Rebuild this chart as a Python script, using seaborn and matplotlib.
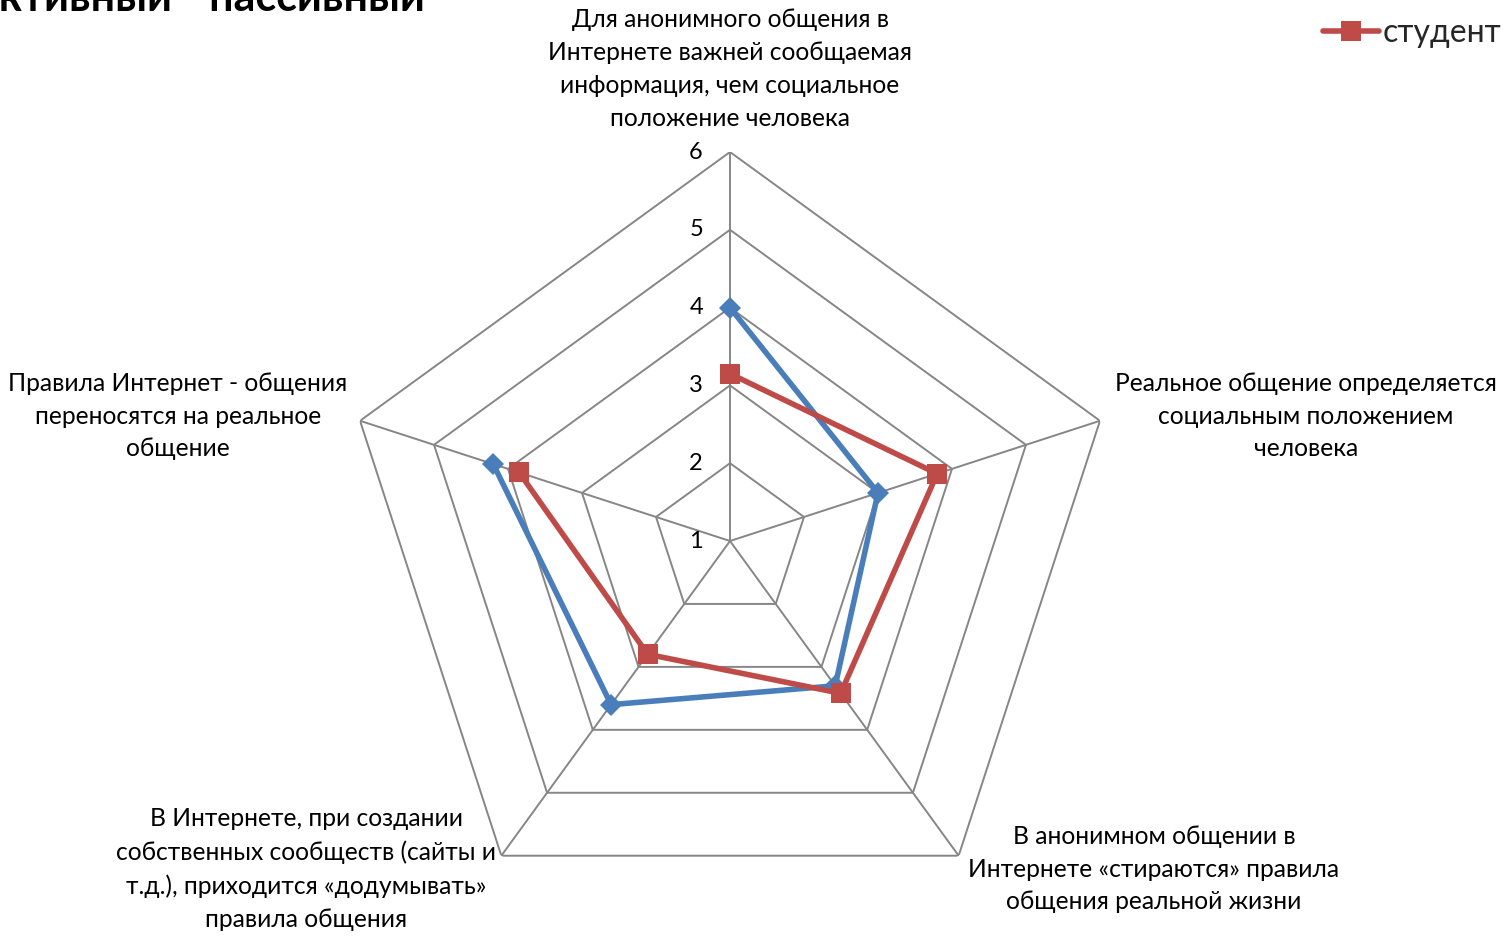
import numpy as np
import pandas as pd
import matplotlib
matplotlib.use("Agg")
import matplotlib.pyplot as plt
import seaborn as sns
from matplotlib.transforms import offset_copy

categories = [
    "Для анонимного общения в\nИнтернете важней сообщаемая\nинформация, чем социальное\nположение человека",
    "Реальное общение определяется\nсоциальным положением\nчеловека",
    "В анонимном общении в\nИнтернете «стираются» правила\nобщения реальной жизни",
    "В Интернете, при создании\nсобственных сообществ (сайты и\nт.д.), приходится «додумывать»\nправила общения",
    "Правила Интернет - общения\nпереносятся на реальное\nобщение",
]
series_blue = [4.0, 3.0, 3.3, 3.6, 4.2]
series_red = [3.15, 3.8, 3.42, 2.8, 3.85]
ring_labels = [1, 2, 3, 4, 5, 6]
legend_label = "студент"
title_text = "Активный - пассивный"

W, H = 1505, 938
sns.set_theme(style="white")
FONT = ["Lato", "DejaVu Sans"]
plt.rcParams["font.family"] = FONT

fig = plt.figure(figsize=(W / 100, H / 100), dpi=100)
cx, cy, R = 730, 541, 389
ax = fig.add_axes([(cx - R) / W, (H - cy - R) / H, 2 * R / W, 2 * R / H], projection="polar")
ax.set_theta_offset(np.pi / 2)
ax.set_theta_direction(-1)
ax.set_ylim(ring_labels[0], ring_labels[-1])
ax.grid(False)
ax.spines["polar"].set_visible(False)
ax.set_xticks([])
ax.set_yticks([])
ax.set_facecolor("none")

n = len(categories)
angles = np.linspace(0, 2 * np.pi, n, endpoint=False)
closed = np.append(angles, angles[0])

grid_color = "#868686"
for r in ring_labels[1:]:
    ax.plot(closed, [r] * (n + 1), color=grid_color, lw=1.4, zorder=1)
for a in angles:
    ax.plot([a, a], [ring_labels[0], ring_labels[-1]], color=grid_color, lw=1.4, zorder=1)

df = pd.DataFrame({
    "theta": np.concatenate([closed, closed]),
    "r": np.concatenate([series_blue + [series_blue[0]], series_red + [series_red[0]]]),
    "series": ["blue"] * (n + 1) + ["red"] * (n + 1),
})
sns.lineplot(data=df[df.series == "blue"], x="theta", y="r", sort=False, ax=ax,
             color="#4A7EBB", lw=4, marker="D", markersize=11, markeredgewidth=0, zorder=3)
sns.lineplot(data=df[df.series == "red"], x="theta", y="r", sort=False, ax=ax,
             color="#BE4B48", lw=4, marker="s", markersize=14, markeredgewidth=0, zorder=4,
             label=legend_label)
ax.set_xlabel("")
ax.set_ylabel("")

# ring labels
toff = offset_copy(ax.transData, fig=fig, x=-27, y=0, units="dots")
for r in ring_labels:
    ax.text(0, r, str(r), transform=toff, ha="right", va="center", fontsize=17, color="#000000")

# category labels
label_pos = [(730, 69), (1306, 416), (1154, 869), (306, 869), (178, 416)]
for lab, (px, py) in zip(categories, label_pos):
    fig.text(px / W, 1 - py / H, lab, ha="center", va="center", fontsize=17.7,
             linespacing=1.52, color="#000000")

# title (cut off at top)
fig.text(425 / W, 1 - 11 / H, title_text, ha="right", va="baseline", fontsize=31,
         fontweight="bold", color="#000000")

leg = ax.legend(loc="center right", bbox_to_anchor=(1517 / W, 1 - 33 / H),
                bbox_transform=fig.transFigure, frameon=False, fontsize=23,
                handlelength=1.75, handletextpad=0.1, borderpad=0)

fig.savefig("out.png", dpi=100)
